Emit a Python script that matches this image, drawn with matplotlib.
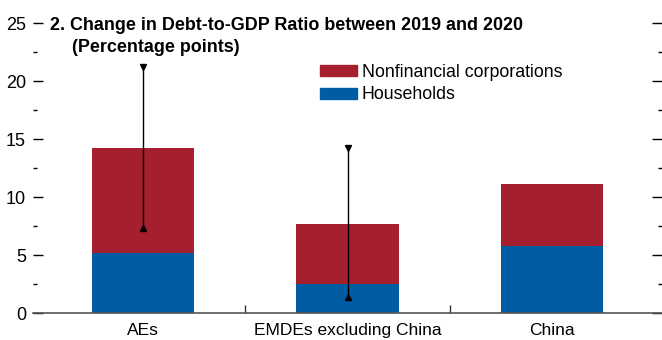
import matplotlib
matplotlib.use('Agg')
import matplotlib.pyplot as plt
from matplotlib.patches import Patch

plt.rcParams['font.family'] = ['Liberation Sans', 'DejaVu Sans']

# Data
categories = ['AEs', 'EMDEs excluding China', 'China']
households = [5.15, 2.5, 5.8]
nonfinancial = [9.05, 5.2, 5.3]
range_low = [7.3, 1.4, None]
range_high = [21.2, 14.2, None]

red = '#A61F2F'
blue = '#005DA4'

fig = plt.figure(figsize=(6.62, 3.4), dpi=100)
ax = fig.add_axes([33 / 662, 27 / 340, 629 / 662, 290 / 340])

x = list(range(len(categories)))
ax.bar(x, households, width=0.5, color=blue, label='Households')
ax.bar(x, nonfinancial, width=0.5, bottom=households, color=red,
       label='Nonfinancial corporations')

# range lines with triangle ends
for i in x:
    if range_low[i] is None:
        continue
    ax.vlines(i, range_low[i], range_high[i], color='black', lw=1)
    ax.plot(i, range_high[i], marker='v', color='black', ms=4)
    ax.plot(i, range_low[i], marker='^', color='black', ms=4)

ax.set_xlim(-0.54, 2.54)
ax.set_ylim(0, 25)

for s in ['top', 'left', 'right']:
    ax.spines[s].set_visible(False)
ax.spines['bottom'].set_color('#555555')
ax.spines['bottom'].set_linewidth(1.2)

ax.set_xticks(x)
ax.set_xticklabels(categories, fontsize=12.5)
ax.set_xticks([0.5, 1.5], minor=True)
ax.tick_params(axis='x', which='major', length=0, pad=7)
ax.tick_params(axis='x', which='minor', direction='in', length=6, width=1, color='#333333')

ax.set_yticks([0, 5, 10, 15, 20, 25])
ax.set_yticks([2.5, 7.5, 12.5, 17.5, 22.5], minor=True)
ax.tick_params(axis='y', which='major', direction='in', length=7, width=1,
               labelsize=13, pad=5, right=True, left=True)
ax.tick_params(axis='y', which='minor', direction='in', length=3, width=1,
               right=True, left=True)

# legend: nonfinancial on top
handles = [Patch(color=red), Patch(color=blue)]
ax.legend(handles, ['Nonfinancial corporations', 'Households'],
          loc='upper left', bbox_to_anchor=(0.4415, 0.889), frameon=False,
          fontsize=12.8, handlelength=2.1, handleheight=0.6,
          handletextpad=0.28, labelspacing=0.3, borderpad=0)

fig.text(50 / 662, 1 - 25 / 340, '2. Change in Debt-to-GDP Ratio between 2019 and 2020',
         fontsize=12.9, fontweight='bold', va='center', ha='left')
fig.text(72 / 662, 1 - 48 / 340, '(Percentage points)',
         fontsize=12.9, fontweight='bold', va='center', ha='left')

fig.savefig('out.png', dpi=100)
